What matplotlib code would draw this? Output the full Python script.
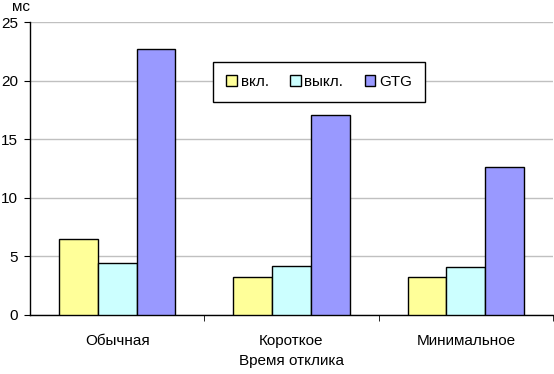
import numpy as np
import matplotlib
matplotlib.use("Agg")
import matplotlib.pyplot as plt

# данные с графика
категории = ["Обычная", "Короткое", "Минимальное"]
вкл = [6.5, 3.25, 3.25]
выкл = [4.45, 4.2, 4.1]
gtg = [22.7, 17.1, 12.65]
серии = ["вкл.", "выкл.", "GTG"]
цвета = ["#ffff99", "#ccffff", "#9999ff"]

plt.rcParams['font.family'] = ['Liberation Sans', 'DejaVu Sans']
plt.rcParams['font.size'] = 11

fig = plt.figure(figsize=(5.54, 3.74), dpi=100)
ax = fig.add_axes([30 / 554, 1 - 315 / 374, 523 / 554, 293 / 374])

x = np.arange(len(категории))
w = 1 / 4.5
for i, (vals, name, c) in enumerate(zip([вкл, выкл, gtg], серии, цвета)):
    ax.bar(x + (i - 1) * w, vals, width=w, color=c, edgecolor="black",
           linewidth=1, label=name, zorder=3)

ax.set_xlim(-0.5, len(категории) - 0.5)
ax.set_ylim(0, 25)
ax.set_yticks([0, 5, 10, 15, 20, 25])
ax.yaxis.grid(True, color="#c0c0c0", linewidth=1, zorder=0)
for s in ["top", "right"]:
    ax.spines[s].set_visible(False)
ax.spines["left"].set_linewidth(1)
ax.spines["bottom"].set_linewidth(1)

ax.set_xticks(x)
ax.set_xticklabels(категории)
ax.tick_params(axis="x", length=0, pad=13.5)
ax.set_xticks(np.arange(len(категории)) + 0.5, minor=True)
ax.tick_params(axis="x", which="minor", length=4.3, direction="out")
ax.tick_params(axis="y", length=4.3, direction="out", pad=4.5)

ax.set_xlabel("Время отклика", labelpad=4.5)
fig.text(12 / 554, 1 - 7 / 374, "мс", ha="left", va="center")

leg = ax.legend(ncol=3, loc="upper left", bbox_to_anchor=((213 - 30) / 523, 1 - (62 - 22) / 293),
                frameon=True, fancybox=False, edgecolor="black", framealpha=1,
                handlelength=0.7, handleheight=0.7, columnspacing=1.4, handletextpad=0.25,
                borderpad=0.85, borderaxespad=0)
leg.get_frame().set_linewidth(1)

fig.savefig("out.png", dpi=100)
